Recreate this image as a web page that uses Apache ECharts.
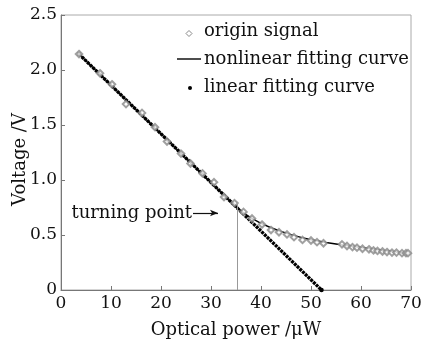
<!DOCTYPE html>
<html>
<head>
<meta charset="utf-8">
<script src="https://cdn.jsdelivr.net/npm/echarts@6/dist/echarts.min.js"></script>
<style>html,body{margin:0;padding:0;background:#fff;}#c{width:421px;height:346px;}</style>
</head>
<body>
<div id="c"></div>
<script>
// Origin signal (measured points)
const originX = [3.6, 7.8, 10.2, 13.0, 16.2, 18.8, 21.2, 24.0, 25.9, 28.3, 30.6, 32.6, 34.7, 36.5, 38.2, 40.2, 42.0, 43.6, 45.2, 46.6, 48.3, 50.0, 51.2, 52.5, 56.2, 57.2, 58.3, 59.2, 60.3, 61.6, 62.5, 63.3, 64.3, 65.2, 66.2, 67.1, 68.2, 69.0, 69.4];
const originY = [2.145, 1.97, 1.87, 1.69, 1.61, 1.48, 1.35, 1.24, 1.15, 1.06, 0.98, 0.845, 0.79, 0.71, 0.65, 0.595, 0.545, 0.525, 0.505, 0.48, 0.455, 0.45, 0.435, 0.425, 0.415, 0.40, 0.39, 0.385, 0.375, 0.37, 0.36, 0.355, 0.35, 0.345, 0.34, 0.34, 0.335, 0.335, 0.335];
// Nonlinear fitting curve (read knots)
const nonlinX = [3.6, 33.5, 35, 36.5, 38, 40, 42, 44, 46, 48, 50, 53, 56, 60, 64, 69.5];
const nonlinY = [2.145, 0.82, 0.757, 0.702, 0.656, 0.606, 0.566, 0.532, 0.503, 0.478, 0.457, 0.432, 0.411, 0.386, 0.362, 0.332];
// Linear fitting curve (end points)
const linX = [3.6, 52.1];
const linY = [2.145, 0];
// Turning point
const turnX = 35.2;
const turnTopY = 0.78;
const arrowY = 0.70;
const arrowFromX = 26.4;
const arrowToX = 31.4;
// Tick labels
const xTickLabels = ['0', '10', '20', '30', '40', '50', '60', '70'];
const yTickLabels = ['0', '0.5', '1.0', '1.5', '2.0', '2.5'];
const legendNames = ['origin signal', 'nonlinear fitting curve', 'linear fitting curve'];

const FONT = 'DejaVu Serif';
const zip = (a, b) => a.map((v, i) => [v, b[i]]);

const chart = echarts.init(document.getElementById('c'), null, {renderer: 'canvas'});
chart.setOption({
  animation: false,
  backgroundColor: '#fff',
  grid: {left: 61, right: 10, top: 15, bottom: 56, show: true, borderColor: '#aaa', borderWidth: 1,
    outerBoundsMode: 'none', containLabel: false},
  xAxis: {
    type: 'value', min: 0, max: 70, interval: 10,
    name: 'Optical power /μW', nameLocation: 'middle', nameGap: 31,
    nameMoveOverlap: false,
    nameTextStyle: {fontFamily: FONT, fontSize: 18, color: '#111'},
    axisLine: {show: true, lineStyle: {color: '#777', width: 1}},
    axisTick: {show: true, inside: true, length: 4, lineStyle: {color: '#777'}},
    axisLabel: {fontFamily: FONT, fontSize: 17, color: '#111', margin: 5,
      formatter: (v) => xTickLabels[Math.round(v / 10)]},
    splitLine: {show: false}
  },
  yAxis: {
    type: 'value', min: 0, max: 2.5, interval: 0.5,
    name: 'Voltage /V', nameLocation: 'middle', nameGap: 32, nameRotate: 90,
    nameMoveOverlap: false,
    nameTextStyle: {fontFamily: FONT, fontSize: 18, color: '#111', padding: [0, 0, 0, -14]},
    axisLine: {show: true, lineStyle: {color: '#777', width: 1}},
    axisTick: {show: true, inside: true, length: 4, lineStyle: {color: '#777'}},
    axisLabel: {fontFamily: FONT, fontSize: 17, color: '#111', margin: 4,
      formatter: (v) => yTickLabels[Math.round(v / 0.5)]},
    splitLine: {show: false}
  },
  series: [
    {
      name: legendNames[2], type: 'line', data: zip(linX, linY),
      symbol: 'circle', symbolSize: 4.5, showSymbol: true,
      itemStyle: {color: '#000'},
      lineStyle: {color: '#000', width: 3.3, type: [3, 0.8]}, z: 3
    },
    {
      name: legendNames[1], type: 'line', data: zip(nonlinX, nonlinY),
      smooth: false, symbol: 'none',
      lineStyle: {color: '#000', width: 1.4}, z: 4,
      markLine: {
        silent: true, animation: false,
        data: [
          [{coord: [turnX, 0], symbol: 'none', lineStyle: {color: '#999', width: 1, type: 'solid'}},
           {coord: [turnX, turnTopY], symbol: 'none'}],
          [{coord: [arrowFromX, arrowY], symbol: 'none',
            lineStyle: {color: '#111', width: 1.2, type: 'solid'},
            label: {show: true, position: 'start', formatter: 'turning point', distance: 1,
              fontFamily: FONT, fontSize: 18, color: '#111'}},
           {coord: [arrowToX, arrowY], symbol: 'arrow', symbolSize: [5, 8]}]
        ]
      }
    },
    {
      name: legendNames[0], type: 'scatter', data: zip(originX, originY),
      symbol: 'emptyDiamond', symbolSize: 6.5,
      itemStyle: {color: '#888', borderColor: '#888', borderWidth: 1}, z: 5
    }
  ],
  graphic: [
    {type: 'polygon', shape: {points: [[189, 30.5], [192, 33.5], [189, 36.5], [186, 33.5]]},
      style: {fill: '#fff', stroke: '#888', lineWidth: 1}},
    {type: 'line', shape: {x1: 177, y1: 59, x2: 201, y2: 59}, style: {stroke: '#000', lineWidth: 1.4}},
    {type: 'circle', shape: {cx: 190, cy: 88, r: 2}, style: {fill: '#000'}},
    {type: 'text', left: 204, top: 22, style: {text: legendNames[0], font: '18px "DejaVu Serif"', fill: '#111'}},
    {type: 'text', left: 204, top: 50, style: {text: legendNames[1], font: '18px "DejaVu Serif"', fill: '#111'}},
    {type: 'text', left: 204, top: 78, style: {text: legendNames[2], font: '18px "DejaVu Serif"', fill: '#111'}}
  ]
});
</script>
</body>
</html>
